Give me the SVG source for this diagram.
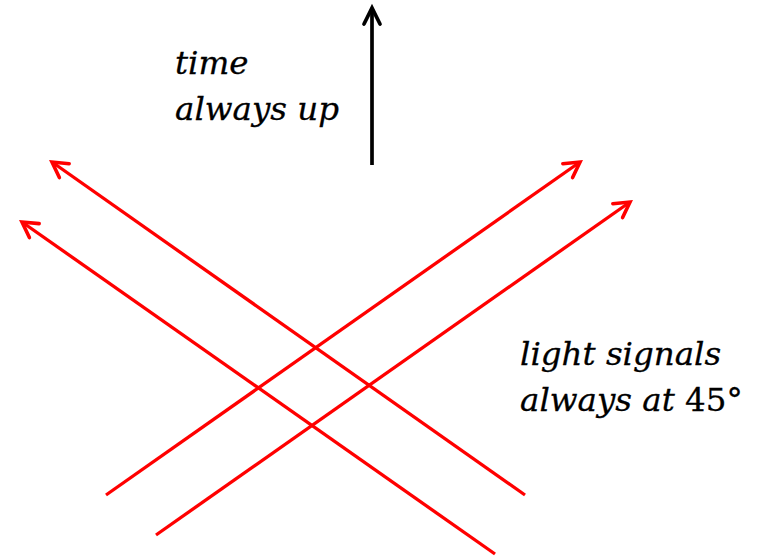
<svg xmlns="http://www.w3.org/2000/svg" width="769" height="560" viewBox="0 0 769 560">
<style>
.red{stroke:#ff0000;stroke-width:3.3;fill:none}
.blk{stroke:#000;stroke-width:3.7;fill:none}
.t{font-family:"DejaVu Serif","Liberation Serif",serif;font-size:32.5px;font-style:italic;fill:#000;stroke:#000;stroke-width:0.3}
.u{font-style:normal}
</style>
<defs>
<marker id="ar" markerUnits="userSpaceOnUse" markerWidth="30" markerHeight="30" viewBox="-20 -15 30 30" refX="0" refY="0" orient="auto">
<path d="M-15,-8.5 L0,0 L-15,8.5" fill="none" stroke="#ff0000" stroke-width="3.6" stroke-linecap="round" stroke-linejoin="miter"/>
</marker>
<marker id="ab" markerUnits="userSpaceOnUse" markerWidth="30" markerHeight="30" viewBox="-20 -15 30 30" refX="0" refY="0" orient="auto">
<path d="M-16,-8 L0,0 L-16,8" fill="none" stroke="#000" stroke-width="3.7" stroke-linecap="round"/>
</marker>
</defs>
<g id="connectors">
<line class="blk" x1="372" y1="165" x2="372" y2="8" marker-end="url(#ab)"/>
<line class="red" x1="525" y1="495" x2="52" y2="162" marker-end="url(#ar)"/>
<line class="red" x1="495" y1="554" x2="22" y2="222" marker-end="url(#ar)"/>
<line class="red" x1="106" y1="495" x2="580" y2="162" marker-end="url(#ar)"/>
<line class="red" x1="156" y1="535" x2="630" y2="202" marker-end="url(#ar)"/>
</g>
<g id="label-time">
<text class="t" x="175" y="74">time</text>
<text class="t" x="175" y="120">always up</text>
</g>
<g id="label-light">
<text class="t" x="520" y="365">light signals</text>
<text class="t" x="520" y="411">always at <tspan class="u">45°</tspan></text>
</g>
</svg>
